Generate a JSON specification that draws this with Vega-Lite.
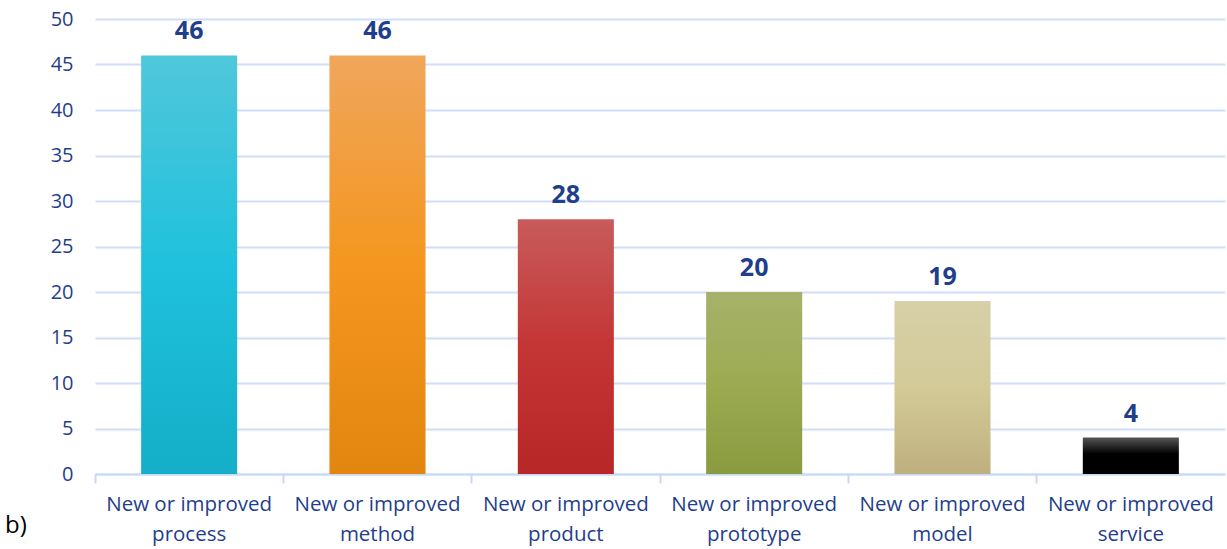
{
  "$schema": "https://vega.github.io/schema/vega-lite/v6.json",
  "autosize": "none",
  "width": 1130,
  "height": 455,
  "padding": {"left": 95, "top": 19, "right": 2, "bottom": 75},
  "background": "white",
  "config": {"view": {"stroke": null}, "font": "Open Sans"},
  "title": {"text": "b)", "orient": "bottom", "anchor": "start", "frame": "group", "align": "left", "dx": -90, "offset": -19, "baseline": "middle", "fontSize": 24, "fontWeight": "normal", "color": "#000000", "font": "Open Sans"},
  "data": {"values": [
    {"cat": "New or improved process", "value": 46},
    {"cat": "New or improved method", "value": 46},
    {"cat": "New or improved product", "value": 28},
    {"cat": "New or improved prototype", "value": 20},
    {"cat": "New or improved model", "value": 19},
    {"cat": "New or improved service", "value": 4}
  ]},
  "encoding": {
    "x": {"field": "cat", "type": "nominal", "sort": null,
      "scale": {"paddingInner": 0, "paddingOuter": 0},
      "axis": {"title": null, "labelAngle": 0, "labelExpr": "['New or improved', slice(datum.label, 16)]",
        "labelColor": "#1F3E8C", "labelFontSize": 20.5, "labelLineHeight": 30, "labelPadding": 11,
        "bandPosition": 0, "tickSize": 9, "tickColor": "#C9D9F5", "tickWidth": 2,
        "domainColor": "#C9D9F5", "domainWidth": 2, "grid": false}},
    "y": {"field": "value", "type": "quantitative",
      "scale": {"domain": [0, 50]},
      "axis": {"title": null, "values": [0,5,10,15,20,25,30,35,40,45,50], "labelColor": "#1F3E8C", "labelFontSize": 20,
        "labelPadding": 22, "ticks": false, "domain": false, "gridColor": "#D0DEF8", "gridWidth": 2}}
  },
  "layer": [
    {"transform": [{"filter": "datum.cat === 'New or improved process'"}],
     "mark": {"type": "bar", "width": {"band": 0.51}, "color": {"gradient": "linear", "x1": 0, "y1": 0, "x2": 0, "y2": 1, "stops": [{"offset": 0, "color": "#50C7DB"}, {"offset": 0.5, "color": "#1FC1DD"}, {"offset": 1, "color": "#14AEC8"}]}}},
    {"transform": [{"filter": "datum.cat === 'New or improved method'"}],
     "mark": {"type": "bar", "width": {"band": 0.51}, "color": {"gradient": "linear", "x1": 0, "y1": 0, "x2": 0, "y2": 1, "stops": [{"offset": 0, "color": "#F0A65C"}, {"offset": 0.5, "color": "#F4961F"}, {"offset": 1, "color": "#E3860F"}]}}},
    {"transform": [{"filter": "datum.cat === 'New or improved product'"}],
     "mark": {"type": "bar", "width": {"band": 0.51}, "color": {"gradient": "linear", "x1": 0, "y1": 0, "x2": 0, "y2": 1, "stops": [{"offset": 0, "color": "#C85B5B"}, {"offset": 0.5, "color": "#C43535"}, {"offset": 1, "color": "#B82727"}]}}},
    {"transform": [{"filter": "datum.cat === 'New or improved prototype'"}],
     "mark": {"type": "bar", "width": {"band": 0.51}, "color": {"gradient": "linear", "x1": 0, "y1": 0, "x2": 0, "y2": 1, "stops": [{"offset": 0, "color": "#A6B26A"}, {"offset": 0.5, "color": "#9CAB52"}, {"offset": 1, "color": "#899A3F"}]}}},
    {"transform": [{"filter": "datum.cat === 'New or improved model'"}],
     "mark": {"type": "bar", "width": {"band": 0.51}, "color": {"gradient": "linear", "x1": 0, "y1": 0, "x2": 0, "y2": 1, "stops": [{"offset": 0, "color": "#D7D0A8"}, {"offset": 0.5, "color": "#D3CA98"}, {"offset": 1, "color": "#BDB07E"}]}}},
    {"transform": [{"filter": "datum.cat === 'New or improved service'"}],
     "mark": {"type": "bar", "width": {"band": 0.51}, "color": {"gradient": "linear", "x1": 0, "y1": 0, "x2": 0, "y2": 1, "stops": [{"offset": 0, "color": "#555555"}, {"offset": 0.45, "color": "#000000"}, {"offset": 1, "color": "#000000"}]}}},
    {"mark": {"type": "text", "baseline": "bottom", "dy": -11, "fontSize": 25, "fontWeight": "bold", "color": "#1F3E8C"},
     "encoding": {"text": {"field": "value", "type": "quantitative"}}}
  ]
}
